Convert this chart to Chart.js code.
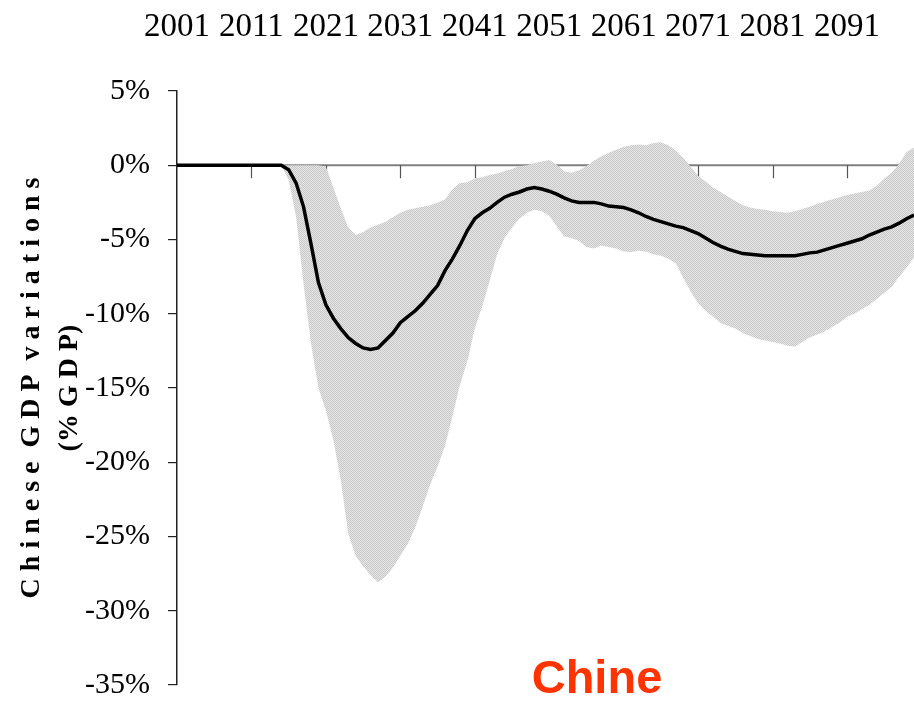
<!DOCTYPE html>
<html>
<head>
<meta charset="utf-8">
<script src="https://cdn.jsdelivr.net/npm/chart.js@4/dist/chart.umd.min.js"></script>
<style>
  html, body { margin: 0; padding: 0; background: #fff; }
  #wrap { width: 914px; height: 702px; }
</style>
</head>
<body>
<div id="wrap"><canvas id="chineChart"></canvas></div>
<script>
// --- données ---
const annees = [];
for (let a = 2001; a <= 2100; a++) annees.push(String(a));

const centrale = [
    0, 0, 0, 0, 0, 0, 0, 0, 0, 0,
    0, 0, 0, 0, 0, -0.3, -1.2, -2.8, -5.3, -7.9,
    -9.4, -10.3, -11.0, -11.6, -12.0, -12.3, -12.4, -12.3, -11.8, -11.3,
    -10.6, -10.2, -9.8, -9.3, -8.7, -8.1, -7.1, -6.3, -5.4, -4.4,
    -3.6, -3.2, -2.9, -2.5, -2.15, -1.95, -1.8, -1.6, -1.5, -1.6,
    -1.75, -1.95, -2.2, -2.4, -2.5, -2.5, -2.5, -2.6, -2.75, -2.8,
    -2.85, -3.0, -3.2, -3.45, -3.65, -3.8, -3.95, -4.1, -4.2, -4.4,
    -4.6, -4.9, -5.2, -5.45, -5.65, -5.8, -5.95, -6.0, -6.05, -6.1,
    -6.1, -6.1, -6.1, -6.1, -6.0, -5.9, -5.85, -5.7, -5.55, -5.4,
    -5.25, -5.1, -4.95, -4.7, -4.5, -4.3, -4.15, -3.9, -3.6, -3.35
];

const borneHaute = [
    0, 0, 0, 0, 0, 0, 0, 0, 0, 0,
    0, 0, 0, 0, 0, 0, 0, 0, 0, 0,
    -0.1, -1.5, -2.9, -4.2, -4.7, -4.5, -4.2, -4.0, -3.8, -3.5,
    -3.2, -3.0, -2.9, -2.8, -2.7, -2.5, -2.3, -1.6, -1.2, -1.15,
    -0.9, -0.8, -0.65, -0.55, -0.4, -0.25, -0.05, 0.0, 0.15, 0.25,
    0.35, 0.05, -0.4, -0.5, -0.35, -0.05, 0.3, 0.6, 0.85, 1.05,
    1.25, 1.35, 1.4, 1.35, 1.5, 1.55, 1.35, 1.0, 0.5, -0.1,
    -0.7, -1.1, -1.5, -1.8, -2.1, -2.4, -2.7, -2.85, -2.95, -3.0,
    -3.1, -3.15, -3.2, -3.1, -2.95, -2.8, -2.6, -2.45, -2.3, -2.15,
    -2.0, -1.9, -1.8, -1.7, -1.4, -0.9, -0.5, 0.1, 0.9, 1.2
];

const borneBasse = [
    0, 0, 0, 0, 0, 0, 0, 0, 0, 0,
    0, 0, 0, 0, 0, -1.0, -3.5, -8.0, -12.0, -15.0,
    -16.5, -18.5, -21.2, -24.8, -26.3, -27.0, -27.6, -28.1, -27.7, -27.1,
    -26.3, -25.5, -24.4, -23.0, -21.5, -20.3, -18.9, -16.9, -14.8, -13.2,
    -11.0, -9.5, -7.8, -6.0, -4.9, -4.2, -3.6, -3.2, -3.0, -3.1,
    -3.4, -4.1, -4.8, -4.9, -5.1, -5.5, -5.6, -5.4, -5.5, -5.6,
    -5.8, -5.85, -5.75, -5.8, -6.0, -6.1, -6.3, -6.6, -7.6, -8.5,
    -9.3, -9.8, -10.2, -10.6, -10.8, -11.0, -11.3, -11.5, -11.7, -11.8,
    -11.9, -12.0, -12.15, -12.2, -11.9, -11.6, -11.4, -11.2, -10.9, -10.6,
    -10.2, -10.0, -9.7, -9.4, -9.0, -8.6, -8.2, -7.5, -6.9, -6.2
];

const titreAxeY = ['C h i n e s e  G D P  v a r i a t i o n s', '(% G D P)'];
const etiquette = 'Chine';

// motif pointillé gris pour la bande
function motifGris() {
    const c = document.createElement('canvas');
    c.width = 2; c.height = 2;
    const g = c.getContext('2d');
    g.fillStyle = '#e6e6e6';
    g.fillRect(0, 0, 2, 2);
    g.fillStyle = '#c8c8c8';
    g.fillRect(0, 0, 1, 1);
    g.fillRect(1, 1, 1, 1);
    return g.createPattern(c, 'repeat');
}

// axe horizontal à 0 % avec graduations tous les 10 ans
const axeZero = {
    id: 'axeZero',
    beforeDatasetsDraw(chart) {
        const { ctx, chartArea, scales } = chart;
        const y0 = scales.y.getPixelForValue(0);
        ctx.save();
        ctx.strokeStyle = '#808080';
        ctx.lineWidth = 2;
        ctx.beginPath();
        ctx.moveTo(chartArea.left, y0);
        ctx.lineTo(chartArea.right, y0);
        ctx.stroke();
        ctx.lineWidth = 1.2;
        ctx.strokeStyle = '#555';
        for (let i = 10; i < annees.length; i += 10) {
            const x = Math.round(scales.x.getPixelForValue(i)) + 0.5;
            ctx.beginPath();
            ctx.moveTo(x, y0);
            ctx.lineTo(x, y0 + 13);
            ctx.stroke();
        }
        ctx.restore();
    },
    afterDraw(chart) {
        const { ctx } = chart;
        ctx.save();
        ctx.fillStyle = '#ff3300';
        ctx.font = 'bold 47px "Liberation Sans", Arial, sans-serif';
        ctx.textAlign = 'center';
        ctx.textBaseline = 'alphabetic';
        ctx.fillText(etiquette, 597, 693);
        ctx.restore();
    }
};

const ctx = document.getElementById('chineChart').getContext('2d');
new Chart(ctx, {
    type: 'line',
    data: {
        labels: annees,
        datasets: [
            {
                label: 'Chine',
                data: centrale,
                borderColor: '#000',
                borderWidth: 3.5,
                pointRadius: 0,
                tension: 0,
                fill: false
            },
            {
                label: 'haute',
                data: borneHaute,
                borderWidth: 0,
                borderColor: 'rgba(0,0,0,0)',
                pointRadius: 0,
                tension: 0,
                backgroundColor: motifGris(),
                fill: '+1'
            },
            {
                label: 'basse',
                data: borneBasse,
                borderWidth: 0,
                borderColor: 'rgba(0,0,0,0)',
                pointRadius: 0,
                tension: 0,
                fill: false
            }
        ]
    },
    options: {
        responsive: true,
        maintainAspectRatio: false,
        animation: false,
        layout: { padding: { left: 8, top: 1, right: 0, bottom: 17 } },
        plugins: {
            legend: { display: false },
            tooltip: { enabled: false }
        },
        scales: {
            x: {
                position: 'top',
                grid: { display: false, drawTicks: false },
                border: { display: false },
                ticks: {
                    autoSkip: false,
                    maxRotation: 0,
                    minRotation: 0,
                    padding: 44,
                    color: '#000',
                    font: { family: '"Liberation Serif", serif', size: 33 },
                    callback: function(v, i) {
                        return i % 10 === 0 ? annees[i] : '';
                    }
                },
                afterFit: function(s) {
                    s.height = 90;
                    s.paddingLeft = 0;
                    s.paddingRight = 0;
                }
            },
            y: {
                min: -35,
                max: 5,
                border: { display: true, color: '#222', width: 1.5 },
                grid: {
                    drawOnChartArea: false,
                    drawTicks: true,
                    tickLength: 9,
                    color: '#222',
                    lineWidth: 1.2
                },
                ticks: {
                    stepSize: 5,
                    padding: 18,
                    color: '#000',
                    font: { family: '"Liberation Serif", serif', size: 30 },
                    callback: function(v) { return v + '%'; }
                },
                title: {
                    display: true,
                    text: titreAxeY,
                    color: '#000',
                    padding: { top: 4, bottom: 0 },
                    font: { family: '"Liberation Serif", serif', size: 28, weight: 'bold', lineHeight: 1.38 }
                },
                afterFit: function(s) {
                    s.width = 169;
                    s.paddingTop = 0;
                    s.paddingBottom = 0;
                }
            }
        }
    },
    plugins: [axeZero]
});
</script>
</body>
</html>
